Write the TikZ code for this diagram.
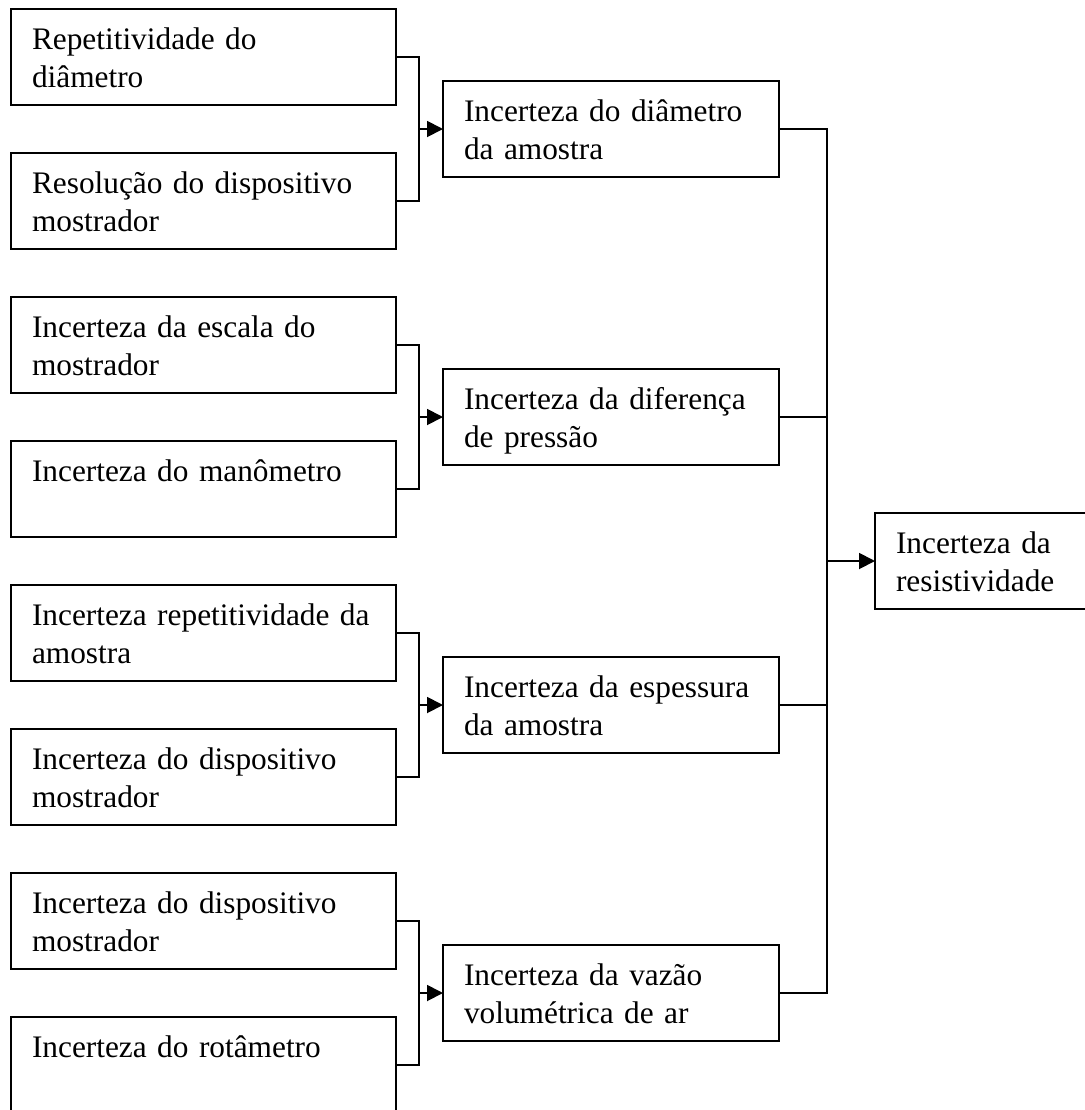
\documentclass[tikz,border=0pt]{standalone}
\usepackage{fontspec}
\setmainfont{Liberation Serif}
\usetikzlibrary{positioning,calc,arrows.meta}

\begin{document}
\begin{tikzpicture}[caixa/.style={draw, line width=1.4pt, outer sep=0pt,
      inner xsep=15.75pt, inner ysep=0pt, align=left, text height=30pt,
      text depth=42pt, font=\fontsize{23.5pt}{28.5pt}\selectfont},
    fonte/.style={caixa, text width=257.25pt},
    parcial/.style={caixa, text width=220.5pt},
    conector/.style={line width=1.4pt},
    seta/.style={conector, -{Triangle[length=12pt, width=12pt]}}]
  \useasboundingbox (0,0) rectangle (813.75pt,-832.5pt);
  \clip (0,0) rectangle (813.75pt,-832.5pt);
  \node[fonte, anchor=north west] (f1) at (8.25pt,-6.75pt) {Repetitividade do\\diâmetro};
  \node[fonte, below=36pt of f1] (f2) {Resolução do dispositivo\\mostrador};
  \node[fonte, below=36pt of f2] (f3) {Incerteza da escala do\\mostrador};
  \node[fonte, below=36pt of f3] (f4) {Incerteza do manômetro};
  \node[fonte, below=36pt of f4] (f5) {Incerteza repetitividade da\\amostra};
  \node[fonte, below=36pt of f5] (f6) {Incerteza do dispositivo\\mostrador};
  \node[fonte, below=36pt of f6] (f7) {Incerteza do dispositivo\\mostrador};
  \node[fonte, below=36pt of f7] (f8) {Incerteza do rotâmetro};
  \coordinate (c1) at ($(f1.east)!0.5!(f2.east)$);
  \coordinate (c2) at ($(f3.east)!0.5!(f4.east)$);
  \coordinate (c3) at ($(f5.east)!0.5!(f6.east)$);
  \coordinate (c4) at ($(f7.east)!0.5!(f8.east)$);
  \node[parcial, right=35.25pt of c1] (u1) {Incerteza do diâmetro\\da amostra};
  \node[parcial, right=35.25pt of c2] (u2) {Incerteza da diferença\\de pressão};
  \node[parcial, right=35.25pt of c3] (u3) {Incerteza da espessura\\da amostra};
  \node[parcial, right=35.25pt of c4] (u4) {Incerteza da vazão\\volumétrica de ar};
  \draw[conector] (f1.east) -- ++(17pt,0) coordinate (j1) |- (f2.east);
  \draw[conector] (f3.east) -- ++(17pt,0) coordinate (j2) |- (f4.east);
  \draw[conector] (f5.east) -- ++(17pt,0) coordinate (j3) |- (f6.east);
  \draw[conector] (f7.east) -- ++(17pt,0) coordinate (j4) |- (f8.east);
  \draw[seta] (j1 |- u1.west) -- (u1.west);
  \draw[seta] (j2 |- u2.west) -- (u2.west);
  \draw[seta] (j3 |- u3.west) -- (u3.west);
  \draw[seta] (j4 |- u4.west) -- (u4.west);
  \draw[conector] (u1.east) -- ++(36pt,0) coordinate (k) |- (u4.east);
  \draw[conector] (u2.east) -- (k |- u2.east);
  \draw[conector] (u3.east) -- (k |- u3.east);
  \coordinate (c5) at ($(u1.east)!0.5!(u4.east)$);
  \node[caixa, text width=200pt, right=72pt of c5] (res) {Incerteza da\\resistividade};
  \draw[seta] (k |- res.west) -- (res.west);
\end{tikzpicture}
\end{document}
